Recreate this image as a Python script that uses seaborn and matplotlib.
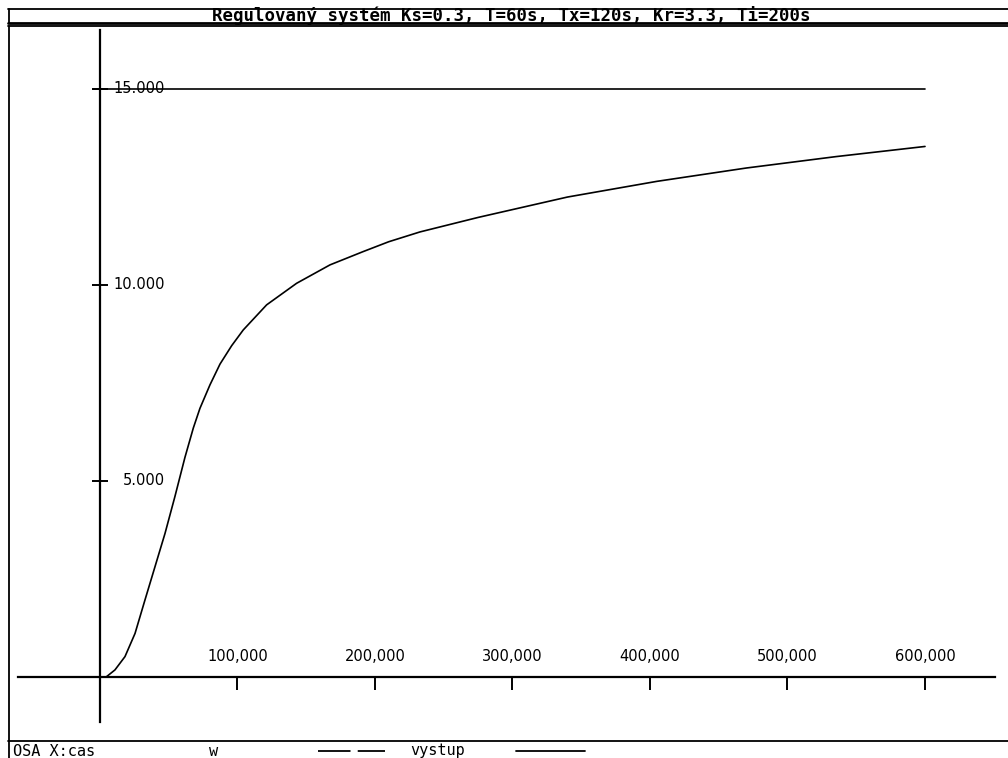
import matplotlib
matplotlib.use("Agg")
import matplotlib.pyplot as plt
import seaborn as sns
import pandas as pd
from matplotlib.lines import Line2D

sns.set_theme(style="white")
plt.rcParams['font.family'] = ['DejaVu Sans']

# ---- data ----
title = "Regulovaný systém Ks=0.3, T=60s, Tx=120s, Kr=3.3, Ti=200s"
t_out = [4.5, 10.9, 18.2, 25.5, 32.7, 40, 47.3, 54.5, 61.8, 67.9, 72.7,
         80, 87.3, 95.8, 104.2, 121.2, 143, 167.3, 191.5, 210, 232.7, 275,
         340, 405, 470, 535, 600]
y_out = [0.0, 0.18, 0.52, 1.11, 1.96, 2.81, 3.66, 4.60, 5.60, 6.35, 6.85,
         7.45, 7.98, 8.45, 8.85, 9.49, 10.04, 10.51, 10.85, 11.10, 11.35,
         11.72, 12.24, 12.64, 12.98, 13.27, 13.53]
t_w = [-4, 600]
y_w = [15, 15]
x_ticks = [100, 200, 300, 400, 500, 600]
x_labels = ["100,000", "200,000", "300,000", "400,000", "500,000", "600,000"]
y_ticks = [5, 10, 15]
y_labels = ["5.000", "10.000", "15.000"]
legend_axis = "OSA X:cas"
legend_names = ["w", "vystup"]

W, H = 1008, 758
fig = plt.figure(figsize=(W / 100, H / 100), dpi=100)
fig.patch.set_facecolor("white")

def fx(p):
    return p / W

def fy(p):
    return 1 - p / H

# axes placed so its spines form the cross-shaped axes
ax = fig.add_axes([fx(18), fy(722), fx(995) - fx(18), fy(30) - fy(722)])
ax.set_facecolor("none")
ax.set_xlim(-59.6, 650.9)
ax.set_ylim(-1.148, 16.5)
for s in ["top", "right"]:
    ax.spines[s].set_visible(False)
ax.spines["left"].set_position(("data", 0))
ax.spines["bottom"].set_position(("data", 0))
for s in ["left", "bottom"]:
    ax.spines[s].set_color("black")
    ax.spines[s].set_linewidth(1.6)

df_out = pd.DataFrame({"t": t_out, "y": y_out})
df_w = pd.DataFrame({"t": t_w, "y": y_w})
sns.lineplot(data=df_out, x="t", y="y", ax=ax, color="black", lw=1.2,
             estimator=None, sort=False)
sns.lineplot(data=df_w, x="t", y="y", ax=ax, color="black", lw=1.2,
             estimator=None, sort=False)
ax.set_xlabel("")
ax.set_ylabel("")

ax.set_xticks(x_ticks)
ax.set_xticklabels([])
ax.set_yticks(y_ticks)
ax.set_yticklabels([])
ax.tick_params(axis="x", direction="out", length=9, width=1.4, color="black",
               bottom=True)
ax.tick_params(axis="y", direction="inout", length=11, width=1.4, color="black",
               left=True)

for xv, lab in zip(x_ticks, x_labels):
    ax.text(xv, 0.33, lab, ha="center", va="bottom", fontsize=10.5,
            color="black")
for yv, lab in zip(y_ticks, y_labels):
    ax.text(47.3, yv, lab, ha="right", va="center", fontsize=10.5,
            color="black")

# ---- frames ----
def hline(y, x0, x1, lw=1.3):
    fig.add_artist(Line2D([fx(x0), fx(x1)], [fy(y), fy(y)], color="black",
                          lw=lw, transform=fig.transFigure))

def vline(x, y0, y1, lw=1.3):
    fig.add_artist(Line2D([fx(x), fx(x)], [fy(y0), fy(y1)], color="black",
                          lw=lw, transform=fig.transFigure))

# title bar
hline(8.5, 8, 1008)
hline(22.5, 8, 1008, lw=2.0)
vline(8.5, 8.5, 22.5)
fig.text(fx(511), fy(21.0), title, ha="center", va="baseline",
         family="DejaVu Sans Mono", fontsize=12.5, fontweight="bold",
         color="black")
# plot frame
hline(26, 8, 1008)
hline(741, 8, 1008)
vline(8.5, 26, 741)
# legend row
vline(8.5, 741, 758)
fig.text(fx(13), fy(751), legend_axis, ha="left", va="center",
         family="DejaVu Sans Mono", fontsize=11, color="black")
fig.text(fx(209), fy(751), legend_names[0], ha="left", va="center",
         family="DejaVu Sans Mono", fontsize=11, color="black")
fig.add_artist(Line2D([fx(318), fx(385)], [fy(751), fy(751)], color="black",
                      lw=1.3, ls=(0, (18, 4)), transform=fig.transFigure))
fig.text(fx(410), fy(751), legend_names[1], ha="left", va="center",
         family="DejaVu Sans Mono", fontsize=11, color="black")
fig.add_artist(Line2D([fx(516), fx(585)], [fy(751), fy(751)], color="black",
                      lw=1.3, transform=fig.transFigure))

fig.savefig("out.png", dpi=100, facecolor="white")
